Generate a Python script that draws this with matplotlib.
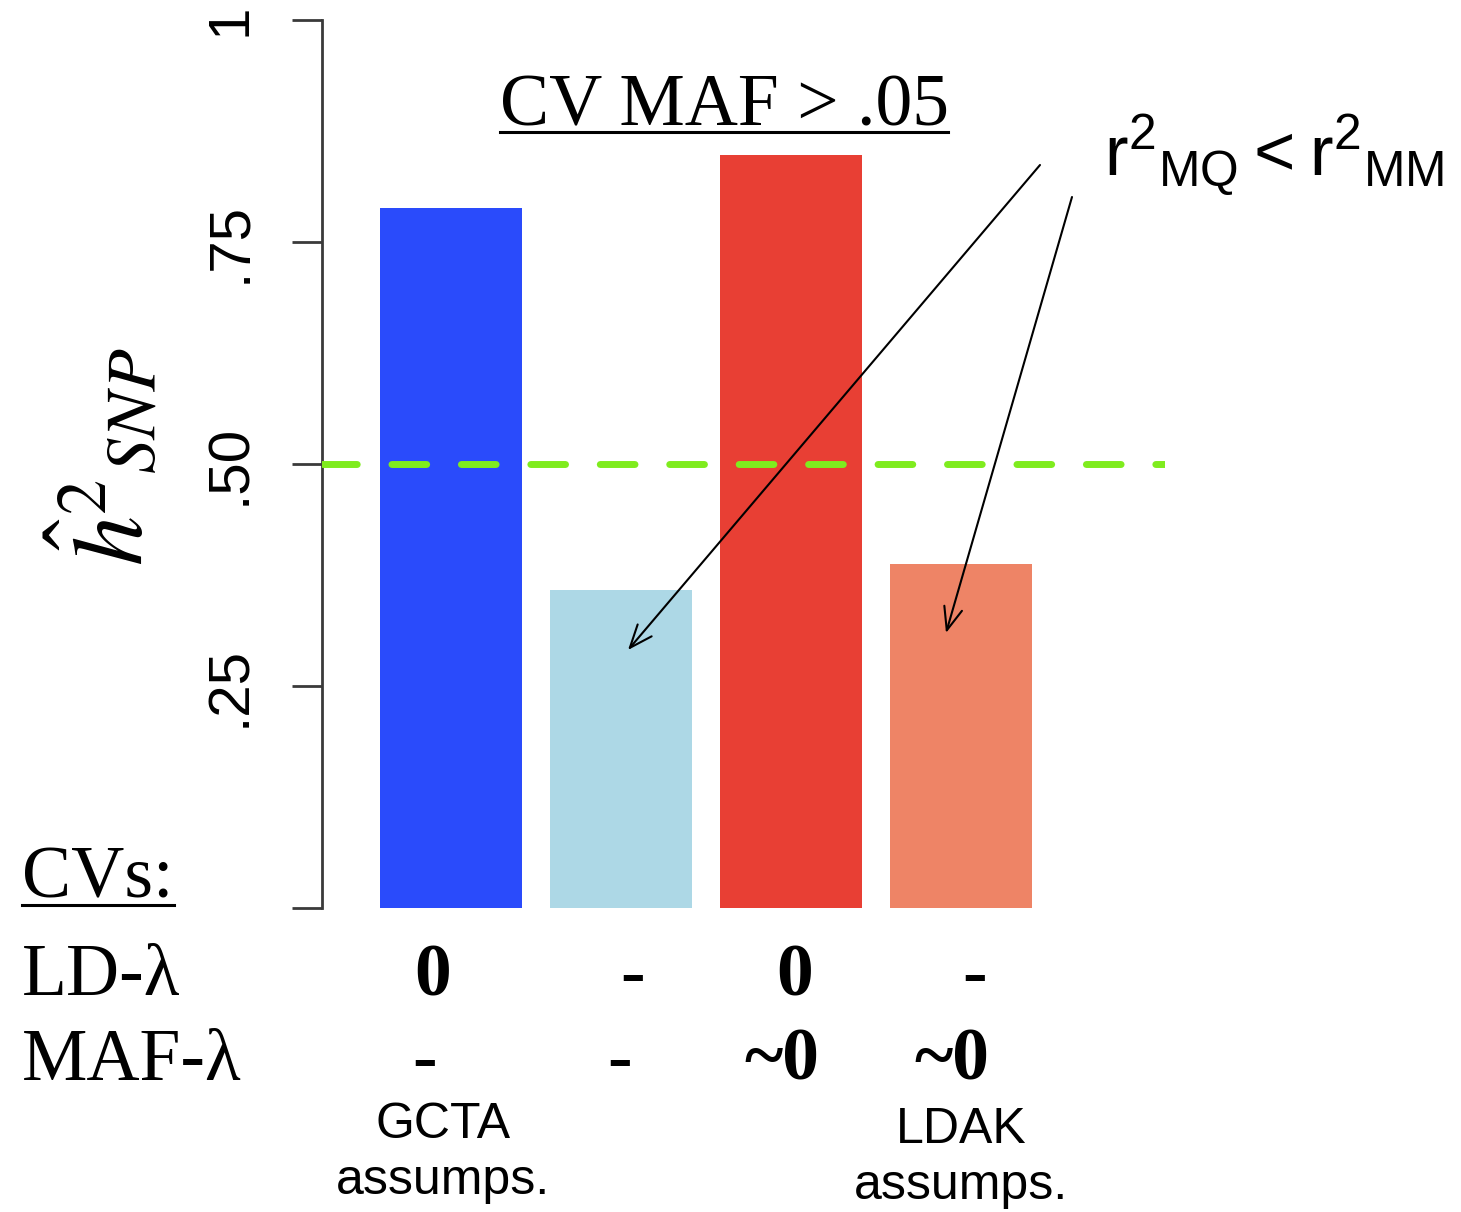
import numpy as np
import matplotlib
matplotlib.use("Agg")
import matplotlib.pyplot as plt
import matplotlib.transforms as mtransforms
from matplotlib.lines import Line2D

# =============================================================================
# data
# =============================================================================
h2_values = [0.788, 0.358, 0.848, 0.387]
bar_colors = ['#2a4bfb', '#add8e6', '#e83f34', '#ee8466']
ld_lambda = ['0', '-', '0', '-']
maf_lambda = ['-', '-', '~0', '~0']
method_notes = ['GCTA\nassumps.', '', '', 'LDAK\nassumps.']
ytick_vals = [0, 0.25, 0.5, 0.75, 1]
ytick_labels = ['', '.25', '.50', '.75', '1']
truth = 0.5

# =============================================================================
# layout
# =============================================================================
W, H = 1461, 1212
fig = plt.figure(figsize=(W / 100, H / 100), dpi=100)
ax = fig.add_axes([322 / W, 1 - 908 / H, (1165 - 322) / W, (908 - 20) / H])

serif = 'Liberation Serif'
sans = 'Liberation Sans'

xs = np.arange(1, len(h2_values) + 1)
ax.bar(xs, h2_values, width=0.83, color=bar_colors, zorder=2)
ax.axhline(truth, color='#7fec1e', lw=5, dashes=(5, 5),
           dash_capstyle='round', zorder=3)

ax.set_xlim(0.241, 5.2)
ax.set_ylim(0, 1)
for s in ['top', 'right', 'bottom']:
    ax.spines[s].set_visible(False)
ax.spines['left'].set_color('#3a3a3a')
ax.spines['left'].set_linewidth(2)
ax.set_xticks([])
ax.set_yticks(ytick_vals)
ax.set_yticklabels(ytick_labels, rotation=90, va='center',
                   family=sans, fontsize=42)
ax.tick_params(axis='y', length=21.6, width=2, color='#3a3a3a', pad=25)

# y label
fig.text(106 / W, 1 - 457 / H, r'$\hat{h}^{2}{}_{SNP}$', rotation=90,
         ha='center', va='center', fontsize=72, math_fontfamily='stix')

# title + annotation
title = fig.text(724 / W, 1 - 125 / H, 'CV MAF > .05', family=serif,
                 fontsize=53, ha='center', va='baseline')
fig.text(1104 / W, 1 - 175 / H,
         r'$\mathregular{r^{2}{}_{MQ} < r^{2}{}_{MM}}$',
         family=sans, fontsize=51, ha='left', va='baseline')

arrow_kw = dict(arrowstyle='->,head_length=0.55,head_width=0.22',
                lw=1.5, color='black', shrinkA=0, shrinkB=0,
                mutation_scale=30)
ax.annotate('', xy=(628 / W, 1 - 650 / H), xytext=(1040 / W, 1 - 165 / H),
            xycoords='figure fraction', arrowprops=arrow_kw)
ax.annotate('', xy=(946 / W, 1 - 633 / H), xytext=(1072 / W, 1 - 197 / H),
            xycoords='figure fraction', arrowprops=arrow_kw)

# row labels under the bars
cvs = fig.text(22 / W, 1 - 898 / H, 'CVs:', family=serif, fontsize=53,
               va='baseline')
fig.text(22 / W, 1 - 995 / H, 'LD-\u03bb', family=serif, fontsize=53,
         va='baseline')
fig.text(22 / W, 1 - 1080 / H, 'MAF-\u03bb', family=serif, fontsize=53,
         va='baseline')

blend = mtransforms.blended_transform_factory(ax.transData, fig.transFigure)
ld_nudge = [-0.106, 0.065, 0.024, 0.082]
maf_nudge = [-0.153, -0.006, -0.053, -0.053]
note_nudge = [-0.047, 0, 0, 0]
note_y = [1102, 0, 0, 1107]
for i in range(len(xs)):
    ax.text(xs[i] + ld_nudge[i], 1 - 995 / H, ld_lambda[i], transform=blend,
            family=serif, weight='bold', fontsize=53, ha='center',
            va='baseline')
    ax.text(xs[i] + maf_nudge[i], 1 - 1080 / H, maf_lambda[i],
            transform=blend, family=serif, weight='bold', fontsize=53,
            ha='center', va='baseline')
    if method_notes[i]:
        ax.text(xs[i] + note_nudge[i], 1 - note_y[i] / H, method_notes[i],
                transform=blend, family=sans, fontsize=36, ha='center',
                va='top', linespacing=1.27)

# underlines
fig.canvas.draw()
inv = fig.transFigure.inverted()
for t, gap in [(title, 7), (cvs, 7)]:
    bb = t.get_window_extent()
    base_y = fig.transFigure.transform(t.get_position())[1]
    (x0, y0), (x1, _) = inv.transform([(bb.x0, base_y - gap),
                                       (bb.x1, base_y - gap)])
    fig.add_artist(Line2D([x0, x1], [y0, y0], color='black', lw=2.2,
                          transform=fig.transFigure))

fig.savefig('out.png', dpi=100)
